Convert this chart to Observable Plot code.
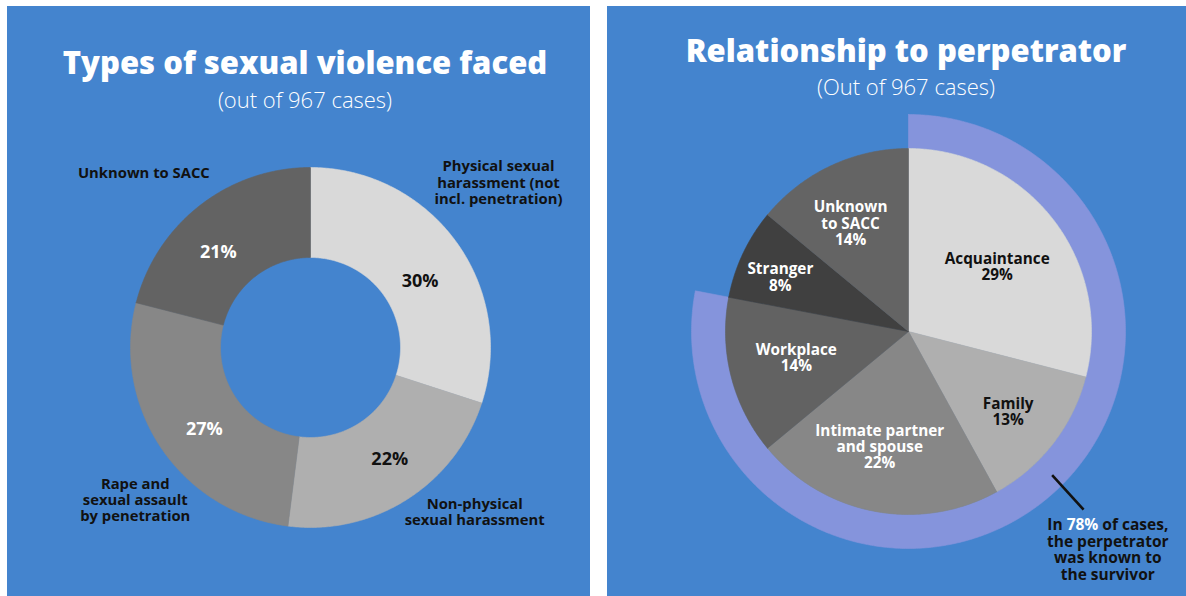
<!DOCTYPE html>
<html><head><meta charset="utf-8">
<script src="https://cdn.jsdelivr.net/npm/d3@7"></script>
<script src="https://cdn.jsdelivr.net/npm/@observablehq/plot@0.6"></script>
<style>
html,body{margin:0;padding:0;background:#fff;}
body{width:1186px;height:596px;position:relative;overflow:hidden;font-family:"Open Sans",sans-serif;}
.panel{position:absolute;background:#4484CE;overflow:hidden;}
.title{position:absolute;width:600px;text-align:center;color:#fff;font-weight:800;font-size:31px;line-height:31px;white-space:nowrap;}
.sub{position:absolute;width:600px;text-align:center;color:#fff;font-weight:300;font-size:22px;line-height:22px;white-space:nowrap;}
.panel svg{position:absolute;left:0;top:0;}
</style></head><body>
<div id="left" class="panel" style="left:7px;top:6px;width:583px;height:590px;"></div>
<div id="right" class="panel" style="left:607px;top:6px;width:579px;height:590px;"></div>
<script>
// ---------- DATA ----------
const typeTitle = "Types of sexual violence faced";
const typeSubtitle = "(out of 967 cases)";
const typeCategories = ["Physical sexual harassment (not incl. penetration)", "Non-physical sexual harassment", "Rape and sexual assault by penetration", "Unknown to SACC"];
const typeLabels = ["Physical sexual\nharassment (not\nincl. penetration)", "Non-physical\nsexual harassment", "Rape and\nsexual assault\nby penetration", "Unknown to SACC"];
const typeShares = [30, 22, 27, 21];

const relTitle = "Relationship to perpetrator";
const relSubtitle = "(Out of 967 cases)";
const relCategories = ["Acquaintance", "Family", "Intimate partner and spouse", "Workplace", "Stranger", "Unknown to SACC"];
const relLabels = ["Acquaintance", "Family", "Intimate partner\nand spouse", "Workplace", "Stranger", "Unknown\nto SACC"];
const relShares = [29, 13, 22, 14, 8, 14];
const knownShare = 78;
const knownNote = "In 78% of cases,\nthe perpetrator\nwas known to\nthe survivor";

// ---------- STYLE / LAYOUT ----------
const BLUE = "#4484CE", RING = "#8594DC", INK = "#111111";
const typeColors = ["#D9D9D9", "#AFAFAF", "#878787", "#636363"];
const relColors = ["#D9D9D9", "#AFAFAF", "#878787", "#626262", "#404040", "#646464"];
const typeInk = [INK, INK, "#fff", "#fff"];
const relInk = [INK, INK, "#fff", "#fff", "#fff", "#fff"];
// percent-label placement (radius in units of outer radius, angle nudge in degrees)
const typePctPos = [{r: 0.71, da: 5}, {r: 0.76, da: -3}, {r: 0.745, da: -3.5}, {r: 0.735, da: -6.3}];
// outside label placement (angle in degrees clockwise from north, radius)
const typeOutPos = [{a: 48.7, r: 1.39}, {a: 135, r: 1.29}, {a: 229, r: 1.29}, {a: 316.3, r: 1.34}];
const relLabelPos = [{r: 0.60, da: 1.7}, {r: 0.70, da: 1.1}, {r: 0.65, da: 3.2}, {r: 0.63, da: 1.1}, {r: 0.76, da: -2.3}, {r: 0.67, da: -3}];

const rad = d => d * Math.PI / 180;
const polar = (a, r) => ({x: r * Math.sin(rad(a)), y: r * Math.cos(rad(a))});

function arcPolygon(key, a0, a1, r0, r1) {
  const pts = [];
  const n = Math.max(2, Math.ceil((a1 - a0) / 0.5));
  for (let i = 0; i <= n; i++) pts.push({key, ...polar(a0 + (a1 - a0) * i / n, r1)});
  if (r0 > 0) for (let i = n; i >= 0; i--) pts.push({key, ...polar(a0 + (a1 - a0) * i / n, r0)});
  else pts.push({key, x: 0, y: 0});
  pts.push({...pts[0]});
  return pts;
}

function slicesFrom(cats, shares) {
  const total = d3.sum(shares);
  const ends = d3.cumsum(shares);
  return cats.map((c, i) => ({cat: c, share: shares[i], a0: (ends[i] - shares[i]) / total * 360, a1: ends[i] / total * 360}));
}

function frame(w, h, cx, cy, R) {
  return {
    width: w, height: h, margin: 0,
    x: {domain: [-cx / R, (w - cx) / R], axis: null},
    y: {domain: [-(h - cy) / R, cy / R], axis: null},
    style: {background: "transparent", fontFamily: "Open Sans, sans-serif", overflow: "visible"}
  };
}

function addTitles(el, title, sub, cx, titleTop, subTop) {
  const t = document.createElement("div");
  t.className = "title"; t.textContent = title;
  t.style.left = (cx - 300) + "px"; t.style.top = titleTop + "px";
  const s = document.createElement("div");
  s.className = "sub"; s.textContent = sub;
  s.style.left = (cx - 300) + "px"; s.style.top = subTop + "px";
  el.append(t, s);
}

// ---------- LEFT: donut ----------
{
  const W = 583, H = 590, CX = 303, CY = 341, R = 180, INNER = 0.5;
  const sl = slicesFrom(typeCategories, typeShares);
  const polys = sl.flatMap(s => arcPolygon(s.cat, s.a0, s.a1, INNER, 1));
  const pct = sl.map((s, i) => ({...s, ink: typeInk[i], ...polar((s.a0 + s.a1) / 2 + typePctPos[i].da, typePctPos[i].r)}));
  const outs = sl.map((s, i) => ({label: typeLabels[i], ...polar(typeOutPos[i].a, typeOutPos[i].r)}));
  const chart = Plot.plot({
    ...frame(W, H, CX, CY, R),
    color: {domain: typeCategories, range: typeColors},
    marks: [
      Plot.line(polys, {x: "x", y: "y", z: "key", fill: "key", stroke: "key", strokeWidth: 0.6, curve: "linear"}),
      Plot.text(pct.filter(d => d.ink !== "#fff"), {x: "x", y: "y", text: d => d.share + "%", fill: INK, fontSize: 18, fontWeight: 700}),
      Plot.text(pct.filter(d => d.ink === "#fff"), {x: "x", y: "y", text: d => d.share + "%", fill: "#fff", fontSize: 18, fontWeight: 700}),
      Plot.text(outs, {x: "x", y: "y", text: "label", fill: INK, fontSize: 14.8, fontWeight: 700, lineHeight: 1.1})
    ]
  });
  const el = document.getElementById("left");
  el.append(chart);
  addTitles(el, typeTitle, typeSubtitle, 298, 41, 82);
}

// ---------- RIGHT: pie with ring ----------
{
  const W = 579, H = 590, CX = 301, CY = 325, R = 183, RING_OUT = 217 / 183;
  const sl = slicesFrom(relCategories, relShares);
  const polys = sl.flatMap(s => arcPolygon(s.cat, s.a0, s.a1, 0, 1));
  const ring = arcPolygon("known", 0, knownShare / 100 * 360, 1, RING_OUT);
  const labels = sl.map((s, i) => ({text: relLabels[i] + "\n" + s.share + "%", ink: relInk[i], ...polar((s.a0 + s.a1) / 2 + relLabelPos[i].da, relLabelPos[i].r)}));
  const p1 = polar(135, 1.11), p2 = polar(135.5, 1.365);
  const notePos = polar(137.6, 1.615);
  const chart = Plot.plot({
    ...frame(W, H, CX, CY, R),
    color: {domain: relCategories, range: relColors},
    marks: [
      Plot.line(ring, {x: "x", y: "y", fill: RING, stroke: RING, strokeWidth: 0.6, curve: "linear"}),
      Plot.line(polys, {x: "x", y: "y", z: "key", fill: "key", stroke: "key", strokeWidth: 0.6, curve: "linear"}),
      Plot.text(labels.filter(d => d.ink !== "#fff"), {x: "x", y: "y", text: "text", fill: INK, fontSize: 15.3, fontWeight: 700, lineHeight: 1.06}),
      Plot.text(labels.filter(d => d.ink === "#fff"), {x: "x", y: "y", text: "text", fill: "#fff", fontSize: 15.3, fontWeight: 700, lineHeight: 1.06}),
      Plot.link([{x1: p1.x, y1: p1.y, x2: p2.x, y2: p2.y}], {x1: "x1", y1: "y1", x2: "x2", y2: "y2", stroke: INK, strokeWidth: 2.6}),
      Plot.text([{...notePos, text: knownNote}], {x: "x", y: "y", text: "text", fill: INK, fontSize: 15.5, fontWeight: 700, lineHeight: 1.08})
    ]
  });
  // colour the "78%" inside the note white
  chart.querySelectorAll("text tspan").forEach(ts => {
    if (ts.textContent.includes(knownShare + "%")) {
      const [before, after] = ts.textContent.split(knownShare + "%");
      ts.textContent = "";
      const ns = "http://www.w3.org/2000/svg";
      const a = document.createElementNS(ns, "tspan"); a.textContent = before;
      const b = document.createElementNS(ns, "tspan"); b.textContent = knownShare + "%"; b.setAttribute("fill", "#fff");
      const c = document.createElementNS(ns, "tspan"); c.textContent = after;
      ts.append(a, b, c);
    }
  });
  const el = document.getElementById("right");
  el.append(chart);
  addTitles(el, relTitle, relSubtitle, 299, 29, 69);
}
</script>
</body></html>
